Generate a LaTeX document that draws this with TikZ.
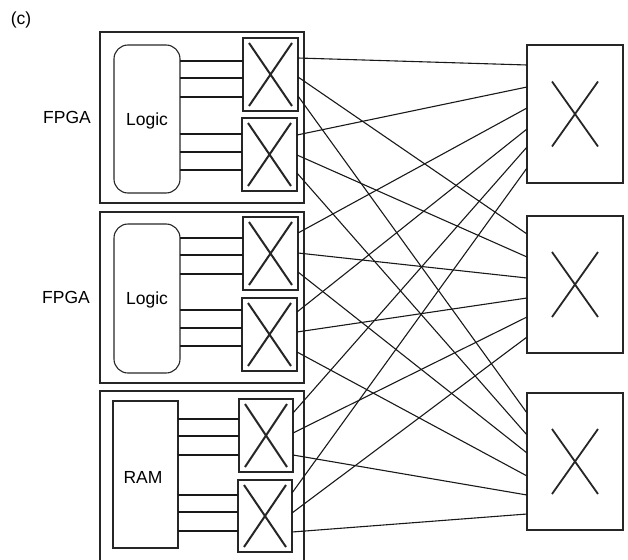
\documentclass[tikz,border=0pt]{standalone}
\usepackage{fontspec}
\setmainfont{Liberation Sans}
\begin{document}
\begin{tikzpicture}[x=1pt,y=-1pt,
  lbl/.style={font=\fontsize{17.5}{20}\selectfont, inner sep=0pt},
  fpgabox/.style={draw=black!85, line width=1.4pt, inner sep=0pt, outer sep=0pt},
  logicbox/.style={draw=black!85, line width=1.1pt, rounded corners=14pt, inner sep=0pt, outer sep=0pt,
    font=\fontsize{17.5}{20}\selectfont, text depth=0pt},
  rambox/.style={draw=black!85, line width=1.1pt, inner sep=0pt, outer sep=0pt,
    font=\fontsize{17.5}{20}\selectfont, text depth=0pt},
  xbox/.style={draw=black!85, line width=1.3pt, inner sep=0pt, outer sep=0pt,
    path picture={\draw[line width=2pt]
      ([shift={(6pt,-5pt)}]path picture bounding box.north west) --
      ([shift={(-6pt,5pt)}]path picture bounding box.south east)
      ([shift={(-6pt,-5pt)}]path picture bounding box.north east) --
      ([shift={(6pt,5pt)}]path picture bounding box.south west);}},
  bigx/.style={draw=black!85, line width=1.3pt, inner sep=0pt, outer sep=0pt,
    minimum width=96pt, minimum height=137pt,
    path picture={\draw[line width=1.8pt]
      ([shift={(-23pt,32.5pt)}]path picture bounding box.center) --
      ([shift={(23pt,-32.5pt)}]path picture bounding box.center)
      ([shift={(23pt,32.5pt)}]path picture bounding box.center) --
      ([shift={(-23pt,-32.5pt)}]path picture bounding box.center);}},
  wire/.style={draw=black!90, line width=1.1pt}
]
\useasboundingbox (0,0) rectangle (628,559);
\clip (0,0) rectangle (628,559);

% label
\node[lbl] (tag) at (21,20) {(c)};

% FPGA boxes
\node[fpgabox, minimum width=204pt, minimum height=171pt] (F1) at (202,117.5) {};
\node[fpgabox, minimum width=204pt, minimum height=171pt] (F2) at (202,297.5) {};
\node[fpgabox, minimum width=204pt, minimum height=189pt] (F3) at (202,485.5) {};
\node[lbl] (F1t) at (67,117) {FPGA};
\node[lbl] (F2t) at (66,297) {FPGA};

% logic / RAM
\node[logicbox, minimum width=66pt, minimum height=148pt] (L1) at (147,119) {Logic};
\node[logicbox, minimum width=66pt, minimum height=149pt] (L2) at (147,298.5) {Logic};
\node[rambox, minimum width=65pt, minimum height=147pt] (RAM) at (145.5,474.5) {};
\node[lbl] (RAMt) at (143,477) {RAM};

% local crossbars
\node[xbox, minimum width=55pt, minimum height=73pt] (c1) at (270.5,74.5) {};
\node[xbox, minimum width=55pt, minimum height=73pt] (c2) at (269.5,154.5) {};
\node[xbox, minimum width=55pt, minimum height=73pt] (c3) at (270.5,253.5) {};
\node[xbox, minimum width=55pt, minimum height=73pt] (c4) at (269.5,334.5) {};
\node[xbox, minimum width=54pt, minimum height=73pt] (c5) at (266,435.5) {};
\node[xbox, minimum width=54pt, minimum height=72pt] (c6) at (265,516) {};

% global crossbars
\node[bigx, minimum height=138pt] (r1) at (575,114) {};
\node[bigx] (r2) at (575,284.5) {};
\node[bigx] (r3) at (575,461.5) {};

% block-to-crossbar wires
\foreach \s/\t/\y in {L1/c1/61, L1/c1/78, L1/c1/97, L1/c2/134, L1/c2/152, L1/c2/170,
                      L2/c3/238, L2/c3/255, L2/c3/274, L2/c4/310, L2/c4/328, L2/c4/346,
                      RAM/c5/419, RAM/c5/436, RAM/c5/455, RAM/c6/495, RAM/c6/512, RAM/c6/531}
  \draw[wire] (\s.east |- 0,\y) -- (\t.west |- 0,\y);

% crossbar interconnect
\foreach \s/\sy/\t/\ty in {c1/58/r1/65, c1/77/r2/234, c1/96/r3/413,
                           c2/135/r1/87, c2/155/r2/257, c2/173/r3/435,
                           c3/233/r1/108, c3/253/r2/278, c3/272/r3/453,
                           c4/312/r1/129, c4/332/r2/298, c4/352/r3/476,
                           c5/413/r1/147, c5/433/r2/317, c5/455/r3/495,
                           c6/493/r1/168, c6/513/r2/337, c6/532/r3/514}
  \draw[wire] (\s.east |- 0,\sy) -- (\t.west |- 0,\ty);
\end{tikzpicture}
\end{document}
